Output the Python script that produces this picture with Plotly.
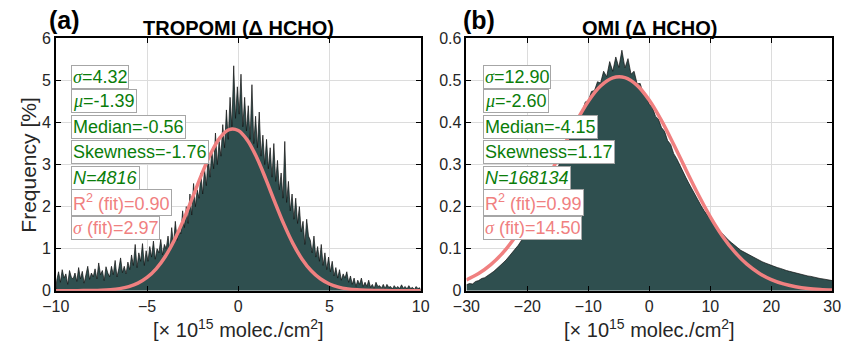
import plotly.graph_objects as go

# ---------------- data ----------------
# TROPOMI histogram: frequency [%] per 0.1 bin from -10 to 10
trop_bin_start = -10.0
trop_bin_width = 0.1
trop_freq = [
    0.25, 0.45, 0.20, 0.50, 0.30, 0.40, 0.15, 0.48, 0.32, 0.28,
    0.42, 0.22, 0.55, 0.28, 0.46, 0.18, 0.38, 0.58, 0.27, 0.42,
    0.33, 0.52, 0.28, 0.66, 0.38, 0.48, 0.24, 0.57, 0.42, 0.33,
    0.58, 0.38, 0.72, 0.33, 0.52, 0.78, 0.43, 0.58, 0.40, 0.68,
    0.50, 0.85, 0.60, 1.10, 0.55, 0.90, 0.70, 1.12, 0.60, 0.95,
    0.70, 1.05, 0.80, 1.18, 0.75, 1.00, 0.90, 1.22, 0.85, 1.10,
    1.00, 1.30, 0.95, 1.50, 1.10, 1.65, 1.20, 1.45, 1.35, 1.90,
    1.50, 2.00, 1.60, 2.30, 1.80, 2.55, 2.00, 2.40, 2.20, 2.80,
    2.30, 2.90, 2.50, 3.20, 2.70, 3.35, 2.90, 3.75, 3.00, 3.55,
    3.20, 3.95, 3.40, 4.30, 3.60, 4.60, 3.90, 5.35, 4.10, 4.85,
    4.20, 5.15, 3.90, 4.60, 3.80, 4.40, 3.60, 4.90, 3.50, 4.15,
    3.40, 4.25, 3.20, 3.70, 3.00, 3.60, 2.90, 3.40, 2.70, 3.50,
    2.60, 3.10, 2.40, 2.80, 2.20, 3.55, 2.10, 2.60, 1.90, 2.30,
    1.70, 2.20, 1.60, 2.00, 1.40, 1.65, 1.10, 1.70, 1.30, 1.20,
    0.90, 1.30, 0.80, 1.05, 0.70, 1.10, 0.60, 0.90, 0.50, 0.80,
    0.45, 0.70, 0.35, 0.55, 0.30, 0.50, 0.25, 0.40, 0.30, 0.45,
    0.20, 0.35, 0.15, 0.30, 0.10, 0.25, 0.15, 0.30, 0.10, 0.20,
    0.10, 0.25, 0.08, 0.15, 0.05, 0.20, 0.10, 0.12, 0.06, 0.15,
    0.05, 0.15, 0.08, 0.10, 0.04, 0.12, 0.06, 0.10, 0.05, 0.14,
    0.06, 0.10, 0.04, 0.12, 0.05, 0.08, 0.03, 0.10, 0.05, 0.07,
]

# TROPOMI fitted curve, read at 0.5 steps
trop_fit_x = [-10.0, -9.5, -9.0, -8.5, -8.0, -7.5, -7.0, -6.5, -6.0, -5.5,
              -5.0, -4.5, -4.0, -3.5, -3.0, -2.5, -2.0, -1.5, -1.0, -0.5,
              0.0, 0.5, 1.0, 1.5, 2.0, 2.5, 3.0, 3.5, 4.0, 4.5,
              5.0, 5.5, 6.0, 6.5, 7.0, 7.5, 8.0, 8.5, 9.0, 9.5, 10.0]
trop_fit_y = [0.000, 0.000, 0.001, 0.002, 0.005, 0.011, 0.024, 0.049, 0.097, 0.179,
              0.315, 0.521, 0.815, 1.206, 1.685, 2.224, 2.774, 3.270, 3.642, 3.833,
              3.811, 3.580, 3.179, 2.667, 2.114, 1.583, 1.120, 0.749, 0.473, 0.283,
              0.159, 0.085, 0.043, 0.020, 0.009, 0.004, 0.002, 0.001, 0.000, 0.000, 0.000]

# OMI histogram: frequency [%] at 0.5 steps from -30 to 30
omi_x_start = -30.0
omi_x_step = 0.5
omi_freq = [
    0.014, 0.017, 0.016, 0.022, 0.024, 0.029, 0.031, 0.037, 0.041, 0.046,
    0.052, 0.058, 0.066, 0.073, 0.082, 0.089, 0.099, 0.108, 0.119, 0.131,
    0.144, 0.156, 0.170, 0.184, 0.199, 0.212, 0.228, 0.243, 0.259, 0.276,
    0.293, 0.310, 0.328, 0.346, 0.362, 0.381, 0.398, 0.418, 0.426, 0.449,
    0.452, 0.474, 0.476, 0.497, 0.494, 0.522, 0.509, 0.545, 0.522, 0.556,
    0.531, 0.572, 0.530, 0.552, 0.515, 0.522, 0.492, 0.493, 0.468, 0.464,
    0.443, 0.437, 0.415, 0.408, 0.388, 0.379, 0.357, 0.348, 0.326, 0.314,
    0.298, 0.284, 0.269, 0.255, 0.241, 0.228, 0.214, 0.202, 0.190, 0.179,
    0.169, 0.160, 0.151, 0.143, 0.135, 0.128, 0.120, 0.114, 0.107, 0.102,
    0.096, 0.092, 0.087, 0.083, 0.079, 0.076, 0.072, 0.069, 0.066, 0.063,
    0.060, 0.058, 0.055, 0.053, 0.050, 0.048, 0.046, 0.044, 0.042, 0.040,
    0.038, 0.037, 0.035, 0.034, 0.032, 0.031, 0.029, 0.028, 0.027, 0.025,
    0.024,
]

# OMI fitted curve, read at 2-unit steps
omi_fit_x = [-30, -28, -26, -24, -22, -20, -18, -16, -14, -12, -10, -8, -6, -4, -2,
             0, 2, 4, 6, 8, 10, 12, 14, 16, 18, 20, 22, 24, 26, 28, 30]
omi_fit_y = [0.0257, 0.0407, 0.0619, 0.0906, 0.1277, 0.1733, 0.2264, 0.2848, 0.3448,
             0.4019, 0.4509, 0.4869, 0.5063, 0.5068, 0.4884, 0.4530, 0.4046, 0.3478,
             0.2878, 0.2293, 0.1758, 0.1298, 0.0922, 0.0631, 0.0416, 0.0264, 0.0161,
             0.0095, 0.0053, 0.0029, 0.0015]

trop_ticks = [-10, -5, 0, 5, 10]
omi_ticks = [-30, -20, -10, 0, 10, 20, 30]
trop_yticks = [0, 1, 2, 3, 4, 5, 6]
omi_yticks = [0, 0.1, 0.2, 0.3, 0.4, 0.5, 0.6]

SIG = "<span style=\"font-family:'Liberation Serif'\"><i>σ</i></span>"
MU = "<span style=\"font-family:'Liberation Serif'\"><i>μ</i></span>"
trop_stats = [SIG + "=4.32", MU + "=-1.39", "Median=-0.56", "Skewness=-1.76",
              "<i>N=4816</i>", "R<sup>2</sup> (fit)=0.90", SIG + " (fit)=2.97"]
omi_stats = [SIG + "=12.90", MU + "=-2.60", "Median=-4.15", "Skewness=1.17",
             "<i>N=168134</i>", "R<sup>2</sup> (fit)=0.99", SIG + " (fit)=14.50"]
stat_colors = ["green", "green", "green", "green", "green", "pink", "pink"]

# ---------------- styling ----------------
W, H = 850, 353
FONT = "Liberation Sans, Arial, Helvetica, sans-serif"
HIST_FILL = "#2f4f4f"
FIT_COLOR = "#f08080"
GREEN = "#0a7d0a"
TXT = "#262626"
GRID = "#dcdcdc"

def px_x(p):
    return p / W

def px_y(p):
    return 1 - p / H

trop_x = [trop_bin_start + trop_bin_width * (i + 0.5) for i in range(len(trop_freq))]
trop_x_full = [trop_bin_start] + trop_x + [-trop_bin_start]
trop_y_full = [0] + trop_freq + [0]
omi_x = [omi_x_start + omi_x_step * i for i in range(len(omi_freq))]

fig = go.Figure()
fig.add_trace(go.Scatter(x=trop_x_full, y=trop_y_full, mode="lines", fill="tozeroy",
                         fillcolor=HIST_FILL, line=dict(color="#111111", width=0.7),
                         xaxis="x", yaxis="y", showlegend=False, hoverinfo="skip"))
fig.add_trace(go.Scatter(x=trop_fit_x, y=trop_fit_y, mode="lines",
                         line=dict(color=FIT_COLOR, width=3.5, shape="spline"),
                         xaxis="x", yaxis="y", showlegend=False))
fig.add_trace(go.Scatter(x=omi_x, y=omi_freq, mode="lines", fill="tozeroy",
                         fillcolor=HIST_FILL, line=dict(color="#111111", width=0.7),
                         xaxis="x2", yaxis="y2", showlegend=False, hoverinfo="skip"))
fig.add_trace(go.Scatter(x=omi_fit_x, y=omi_fit_y, mode="lines",
                         line=dict(color=FIT_COLOR, width=3.5, shape="spline"),
                         xaxis="x2", yaxis="y2", showlegend=False))

ydom = [px_y(297), px_y(32)]
axis_common = dict(showline=True, linecolor="black", linewidth=1.5, mirror="ticks",
                   ticks="inside", ticklen=5, tickcolor="black", tickwidth=1.2,
                   showgrid=True, gridcolor=GRID, gridwidth=1, zeroline=False,
                   tickfont=dict(family=FONT, size=16, color=TXT))

fig.update_layout(
    width=W, height=H, margin=dict(l=0, r=0, t=0, b=0),
    paper_bgcolor="white", plot_bgcolor="white",
    xaxis=dict(domain=[px_x(43), px_x(418)], range=[-10, 10], tickvals=trop_ticks,
               anchor="y", **axis_common),
    yaxis=dict(domain=ydom, range=[0, 6], tickvals=trop_yticks,
               anchor="x", **axis_common),
    xaxis2=dict(domain=[px_x(465), px_x(841)], range=[-30, 30],
                tickvals=omi_ticks, anchor="y2", **axis_common),
    yaxis2=dict(domain=ydom, range=[0, 0.6], tickvals=omi_yticks,
                anchor="x2", **axis_common),
)

ann = []
def text_ann(x, y, text, size, bold=False, angle=0, color="black"):
    t = f"<b>{text}</b>" if bold else text
    ann.append(dict(x=px_x(x), y=px_y(y), xref="paper", yref="paper", text=t,
                    showarrow=False, textangle=angle, xanchor="center", yanchor="middle",
                    font=dict(family=FONT, size=size, color=color)))

text_ann(52, 13, "(a)", 25, bold=True)
text_ann(478, 13, "(b)", 25, bold=True)
text_ann(231, 21, "TROPOMI (Δ HCHO)", 20, bold=True)
text_ann(653, 21, "OMI (Δ HCHO)", 20, bold=True)
text_ann(14, 165, "Frequency [%]", 21, angle=-90, color=TXT)
xlab = "[× 10<sup>15</sup> molec./cm<sup>2</sup>]"
text_ann(231, 337, xlab, 20, color=TXT)
text_ann(653, 337, xlab, 20, color=TXT)

box_ys = [72, 98, 124.5, 151.5, 178.5, 204.5, 231.5]
for left_px, stats in [(59, trop_stats), (482, omi_stats)]:
    for txt, yc, c in zip(stats, box_ys, stat_colors):
        col = GREEN if c == "green" else FIT_COLOR
        ann.append(dict(x=px_x(left_px), y=px_y(yc), xref="paper", yref="paper",
                        text=txt, showarrow=False, xanchor="left", yanchor="middle",
                        font=dict(family=FONT, size=18, color=col),
                        bgcolor="white", bordercolor="#a6a6a6", borderwidth=1, borderpad=1))

fig.update_layout(annotations=ann)
fig.write_html("out.html")
